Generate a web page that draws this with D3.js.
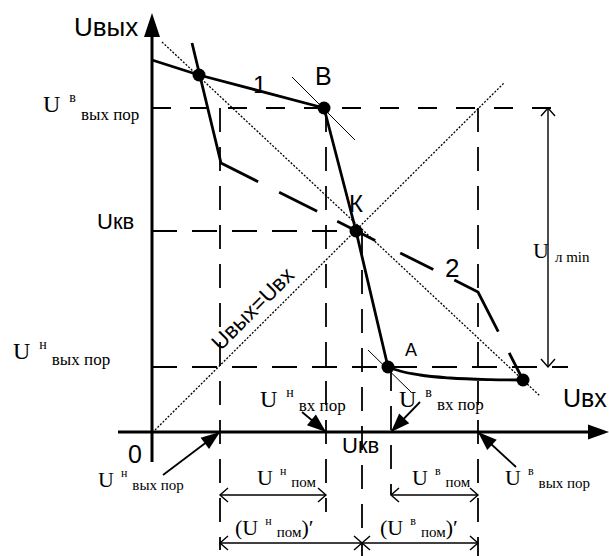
<!DOCTYPE html>
<html>
<head>
<meta charset="utf-8">
<script src="https://cdn.jsdelivr.net/npm/d3@7"></script>
<style>
  html, body { margin: 0; padding: 0; background: #fff; }
  svg { display: block; }
</style>
</head>
<body>
<svg id="chart" width="609" height="556"></svg>
<script>
// Transfer characteristic Uвых = f(Uвх) of a logic inverter (relative units)

// curve 1: real characteristic, steep part with corners at B, K, A
const curve1Steep = [[0, 93], [11.75, 89.25], [43, 81], [51, 50.25], [59, 16.25]];
// curve 1: smooth tail after point A
const curve1Tail = [[59, 16.25], [62, 15.25], [67, 14.25], [74.5, 13.5], [84.5, 13.1], [92.75, 13]];
// curve 2: second (mirrored) characteristic
const curve2 = [[10, 97.25], [17.25, 67.25], [81.5, 35], [92.75, 13]];
// marked points
const dotPoints = [[11.75, 89.25], [43, 81], [51, 50.25], [59, 16.25], [92.75, 13]];
// threshold levels on the output axis: Uв вых пор, Uкв, Uн вых пор
const outLevels = [81, 50.25, 16.25];
// horizontal guides: [level, from x, to x]
const hGuides = [[81, 0, 104], [50.25, 0, 51], [16.25, 0, 104]];
// vertical guides: [position, from y, to y]
const vGuides = [[17, 81, -29.5], [43.5, 81, -20], [52.5, 50.25, -31], [59.75, 16.25, -15.75], [81.5, 81, -31]];
// line Uвых = Uвх and the line through the unity-gain points
const unityLine = [[0.75, 0.5], [88, 87.25]];
const mirrorLine = [[2.5, 97.5], [97, 9]];
// tangents with slope -1 at B and A
const tangents = [[[35, 88.75], [50.75, 73]], [[54, 20.5], [64.75, 10]]];
// dimension lines (open arrows at both ends)
const dims = [
  [[99, 81], [99, 16.25]],
  [[17, -15.75], [43.5, -15.75]],
  [[59.75, -15.75], [81.5, -15.75]],
  [[17, -27.75], [52.5, -27.75]],
  [[52.5, -27.75], [81.5, -27.75]]
];
// pointer arrows onto the input axis
const pointers = [
  [[2.75, -10.75], [17, 0]],
  [[37.5, 5], [43.5, 0]],
  [[67, 7.5], [59.75, 0]],
  [[91, -8.75], [81.5, 0]]
];
// axis extents
const xAxisRange = [-8.5, 114.25];
const yAxisRange = [-7.5, 104.75];

const SANS = "'Liberation Sans', Arial, sans-serif";
const SERIF = "'Liberation Serif', 'Times New Roman', serif";

const svg = d3.select("#chart");
const x = d3.scaleLinear().domain([0, 100]).range([152, 552]);
const y = d3.scaleLinear().domain([0, 100]).range([432, 32]);
const line = d3.line().x(d => x(d[0])).y(d => y(d[1]));

const defs = svg.append("defs");
defs.append("marker")
  .attr("id", "solidHead")
  .attr("viewBox", "-20 -8 21 16")
  .attr("refX", 0).attr("refY", 0)
  .attr("markerWidth", 21).attr("markerHeight", 16)
  .attr("markerUnits", "userSpaceOnUse")
  .attr("orient", "auto")
  .append("path").attr("d", "M0,0L-19,-7L-19,7Z").attr("fill", "#000");
defs.append("marker")
  .attr("id", "openHead")
  .attr("viewBox", "-10 -9 12 18")
  .attr("refX", 0).attr("refY", 0)
  .attr("markerWidth", 12).attr("markerHeight", 18)
  .attr("markerUnits", "userSpaceOnUse")
  .attr("orient", "auto-start-reverse")
  .append("path").attr("d", "M-8,-7L0,0L-8,7")
  .attr("fill", "none").attr("stroke", "#000").attr("stroke-width", 1.4);

// dashed guide lines
const guides = svg.append("g").attr("stroke", "#000").attr("stroke-width", 1.8).attr("fill", "none");
hGuides.forEach(([lv, a, b], i) => {
  guides.append("line")
    .attr("x1", x(a)).attr("x2", x(b)).attr("y1", y(lv)).attr("y2", y(lv))
    .attr("stroke-dasharray", i === 0 ? "19,19" : "25,15");
});
vGuides.forEach(([pos, a, b]) => {
  guides.append("line")
    .attr("x1", x(pos)).attr("x2", x(pos)).attr("y1", y(a)).attr("y2", y(b))
    .attr("stroke-dasharray", "24,15");
});

// dotted reference lines
[unityLine, mirrorLine].forEach(seg => {
  svg.append("path").attr("d", line(seg))
    .attr("stroke", "#000").attr("stroke-width", 1.3)
    .attr("stroke-dasharray", "2,1.6").attr("fill", "none");
});

// thin tangents
tangents.forEach(seg => {
  svg.append("path").attr("d", line(seg))
    .attr("stroke", "#000").attr("stroke-width", 1).attr("fill", "none");
});

// characteristics
svg.append("path").attr("d", line(curve1Steep))
  .attr("stroke", "#000").attr("stroke-width", 2.8).attr("fill", "none")
  .attr("stroke-linejoin", "round");
svg.append("path").attr("d", d3.line().x(d => x(d[0])).y(d => y(d[1])).curve(d3.curveMonotoneX)(curve1Tail))
  .attr("stroke", "#000").attr("stroke-width", 2.8).attr("fill", "none");
svg.append("path").attr("d", line(curve2))
  .attr("stroke", "#000").attr("stroke-width", 2.8).attr("fill", "none")
  .attr("stroke-dasharray", "165 23.5 42.5 22.5 42.5 28 37 23.5 71 24 40");

// marked points
svg.append("g").selectAll("circle").data(dotPoints).join("circle")
  .attr("cx", d => x(d[0])).attr("cy", d => y(d[1])).attr("r", 6.5).attr("fill", "#000");

// axes with arrowheads
svg.append("line")
  .attr("x1", x(0)).attr("x2", x(0))
  .attr("y1", y(yAxisRange[0])).attr("y2", y(yAxisRange[1]) + 20)
  .attr("stroke", "#000").attr("stroke-width", 3);
{
  const tx = x(0), ty = y(yAxisRange[1]);
  svg.append("path").attr("d", `M${tx},${ty}L${tx - 8},${ty + 24}L${tx + 8},${ty + 24}Z`).attr("fill", "#000");
}
svg.append("line")
  .attr("x1", x(xAxisRange[0])).attr("x2", x(xAxisRange[1]) - 18)
  .attr("y1", y(0)).attr("y2", y(0))
  .attr("stroke", "#000").attr("stroke-width", 3);
{
  const tx = x(xAxisRange[1]), ty = y(0);
  svg.append("path").attr("d", `M${tx},${ty}L${tx - 21},${ty - 7.5}L${tx - 21},${ty + 7.5}Z`).attr("fill", "#000");
}

// dimension lines
dims.forEach(seg => {
  svg.append("path").attr("d", line(seg))
    .attr("stroke", "#000").attr("stroke-width", 1.4).attr("fill", "none")
    .attr("marker-start", "url(#openHead)").attr("marker-end", "url(#openHead)");
});

// pointer arrows
pointers.forEach(seg => {
  svg.append("path").attr("d", line(seg))
    .attr("stroke", "#000").attr("stroke-width", 1.8).attr("fill", "none")
    .attr("marker-end", "url(#solidHead)");
});

// plain sans labels
function sans(txt, px, py, size) {
  svg.append("text").attr("font-family", SANS)
    .attr("x", px).attr("y", py).attr("font-size", size).attr("fill", "#000").text(txt);
}
sans("Uвых", x(0) - 78, 36, 26);
sans("Uвх", 563, y(0) - 25, 25);
sans("0", x(0) - 24, y(0) + 31, 25);
sans("Uкв", 97, y(outLevels[1]) - 2, 22);
sans("Uкв", x(52.5) - 20, y(0) + 21, 22);
sans("1", 253, 93, 24);
sans("В", x(dotPoints[1][0]) - 9, y(dotPoints[1][1]) - 23, 25);
sans("К", x(dotPoints[2][0]) - 7, y(dotPoints[2][1]) - 19, 24);
sans("2", 445, 277, 26);
sans("А", x(dotPoints[3][0]) + 17, y(dotPoints[3][1]) - 11, 18);

// diagonal caption
{
  const t = 28;
  svg.append("text").attr("font-family", SANS)
    .attr("transform", `translate(${x(t) - 6},${y(t) - 6}) rotate(-45)`)
    .attr("text-anchor", "middle").attr("font-size", 22).attr("fill", "#000")
    .text("Uвых=Uвх");
}

// serif labels U with superscript / subscript
function uLabel(px, py, sup, sub, o) {
  const t = svg.append("text").attr("font-family", SERIF)
    .attr("x", px).attr("y", py).attr("fill", "#000");
  if (o.prefix) t.append("tspan").attr("font-size", o.size).text(o.prefix);
  t.append("tspan").attr("font-size", o.size).text("U");
  let cur = 0;
  if (sup) {
    t.append("tspan").attr("font-size", o.supSize).attr("dx", o.g1).attr("dy", o.supDy).text(sup);
    cur = o.supDy;
  }
  t.append("tspan").attr("font-size", o.subSize)
    .attr("dx", sup ? o.g2 : o.g1).attr("dy", o.subDy - cur).text(sub);
  cur = o.subDy;
  if (o.suffix) {
    t.append("tspan").attr("font-size", o.size).attr("dy", -cur).text(o.suffix);
  }
}
const big = { size: 24, supSize: 14, subSize: 17, g1: 9, g2: 5, supDy: -10 };
const small = { size: 22, supSize: 12, subSize: 15, g1: 7, g2: 5, supDy: -10, subDy: 2 };

uLabel(43, y(outLevels[0]) + 4, "в", "вых пор", { ...big, subDy: 8 });
uLabel(13, y(outLevels[2]) - 8, "н", "вых пор", { ...big, subDy: 6 });
uLabel(x(43.5) - 66, y(0) - 25, "н", "вх пор", { ...big, subDy: 4 });
uLabel(x(59.75) + 8, y(0) - 25, "в", "вх пор", { ...big, subDy: 3 });

uLabel(98, y(0) + 55, "н", "вых пор", { ...small, subDy: 3 });
uLabel(x(81.5) + 27, y(0) + 53, "в", "вых пор", { ...small, subDy: 3 });
uLabel(x(17) + 37, y(0) + 53, "н", "пом", small);
uLabel(x(59.75) + 21, y(0) + 53, "в", "пом", small);
uLabel(x(17) + 15, y(0) + 103, "н", "пом", { ...small, prefix: "(", suffix: ")′" });
uLabel(x(52.5) + 18, y(0) + 103, "в", "пом", { ...small, prefix: "(", suffix: ")′" });
uLabel(x(99) - 15, 258, null, "л min", { ...small, g1: 6, subDy: 4 });
</script>
</body>
</html>
